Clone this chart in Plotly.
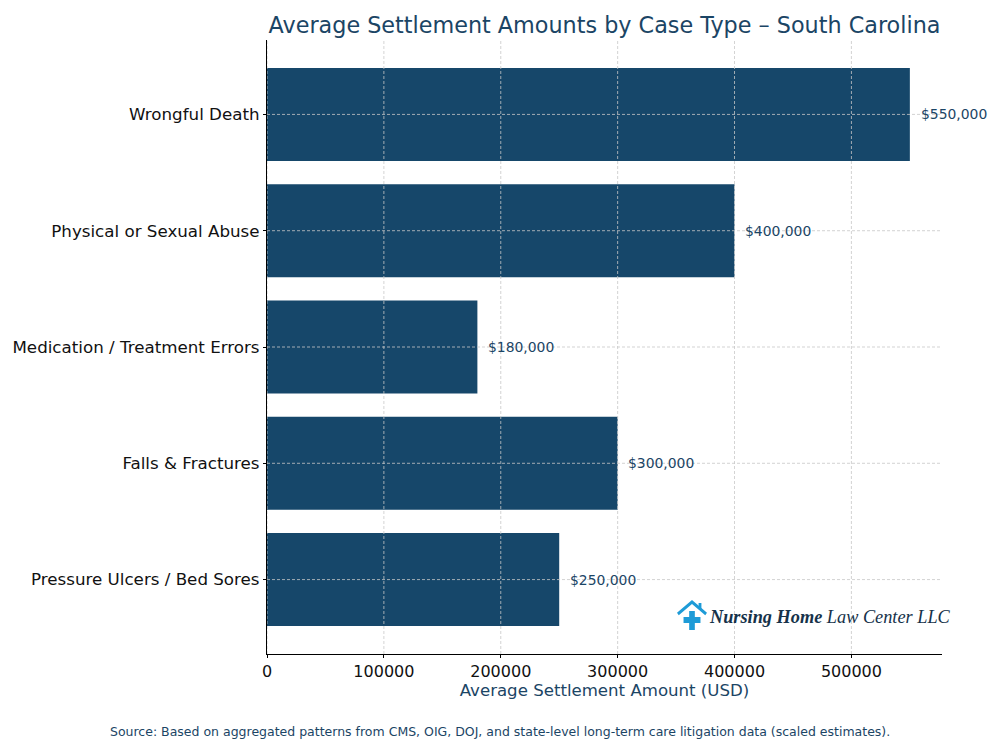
import base64
import plotly.graph_objects as go

categories = ["Pressure Ulcers / Bed Sores", "Falls & Fractures",
              "Medication / Treatment Errors", "Physical or Sexual Abuse",
              "Wrongful Death"]
values = [250000, 300000, 180000, 400000, 550000]
x_ticks = [0, 100000, 200000, 300000, 400000, 500000]

BAR = "#16476A"
DARK = "#1B4565"
FONT = "DejaVu Sans"
GRID = "#c8c8c8"
OFF = 8  # page body margin

fig = go.Figure()
fig.add_trace(go.Bar(
    y=categories, x=values, orientation="h", width=0.8,
    marker=dict(color=BAR, line=dict(width=0)),
    hoverinfo="skip",
))

for c, v in zip(categories, values):
    fig.add_annotation(x=v + 7500, y=c, text=f"${v:,.0f}", showarrow=False,
                       xanchor="left", yanchor="middle",
                       font=dict(family=FONT, size=13.9, color=DARK))

# grid lines drawn above the bars (as in the reference)
for t in x_ticks:
    fig.add_shape(type="line", xref="x", yref="y domain", x0=t, x1=t, y0=0, y1=1,
                  line=dict(color=GRID, width=0.8, dash="3px,2px"), layer="above")
for c in categories:
    fig.add_shape(type="line", xref="x domain", yref="y", x0=0, x1=1, y0=c, y1=c,
                  line=dict(color=GRID, width=0.8, dash="3px,2px"), layer="above")

fig.update_layout(
    width=1000, height=750,
    margin=dict(l=267 - OFF, r=58 + OFF, t=40 - OFF, b=96 + OFF, autoexpand=False),
    plot_bgcolor="white", paper_bgcolor="white",
    showlegend=False,
    title=dict(text="Average Settlement Amounts by Case Type – South Carolina",
               x=(604.5 - OFF) / 1000, xanchor="center", y=1 - (25 - OFF) / 750, yanchor="middle",
               font=dict(family=FONT, size=22.3, color=DARK)),
    font=dict(family=FONT),
)
fig.update_xaxes(
    range=[0, 577500], tickvals=x_ticks, ticktext=[str(t) for t in x_ticks],
    showline=True, linecolor="black", linewidth=1.2,
    ticks="outside", ticklen=3, tickcolor="black",
    tickfont=dict(family=FONT, size=16, color="#111111"),
    showgrid=False, zeroline=False, layer="above traces", automargin=False,
    title=dict(text="Average Settlement Amount (USD)", standoff=4,
               font=dict(family=FONT, size=16.6, color=DARK)),
)
fig.update_yaxes(
    type="category", categoryorder="array", categoryarray=categories,
    range=[-0.64, 4.64],
    showline=True, linecolor="black", linewidth=1.2,
    ticks="outside", ticklen=3, tickcolor="black",
    tickfont=dict(family=FONT, size=16.7, color="#111111"),
    showgrid=False, zeroline=False, layer="above traces", automargin=False,
)

# Source note
fig.add_annotation(xref="paper", yref="paper", x=(500 - 267) / 675, y=(654 - 731) / 614,
                   text="Source: Based on aggregated patterns from CMS, OIG, DOJ, and state-level long-term care litigation data (scaled estimates).",
                   showarrow=False, xanchor="center", yanchor="middle",
                   font=dict(family=FONT, size=12.5, color=DARK))

# Logo icon (house roof with cross)
svg = ('<svg xmlns="http://www.w3.org/2000/svg" width="34" height="32" viewBox="0 0 34 32">'
       '<path d="M2 14 L17 2 L32 14" fill="none" stroke="#1E9BD7" stroke-width="3"/>'
       '<rect x="24" y="3" width="3" height="6" fill="#1E9BD7"/>'
       '<rect x="14" y="11" width="6" height="19" fill="#1E9BD7"/>'
       '<rect x="8" y="17" width="18" height="6" fill="#1E9BD7"/>'
       '</svg>')
src = "data:image/svg+xml;base64," + base64.b64encode(svg.encode()).decode()
fig.add_layout_image(source=src, xref="paper", yref="paper",
                     x=(676 - 267) / 675, y=(654 - 600) / 614,
                     sizex=32 / 675, sizey=32 / 614, xanchor="left", yanchor="top",
                     sizing="stretch", layer="above")
fig.add_annotation(xref="paper", yref="paper", x=(707 - 267) / 675, y=(654 - 617) / 614,
                   text="<b><i>Nursing Home</i></b> <i>Law Center LLC</i>",
                   showarrow=False, xanchor="left", yanchor="middle",
                   font=dict(family="Liberation Serif", size=18.3, color="#16324A"))

fig.write_html("out.html")
